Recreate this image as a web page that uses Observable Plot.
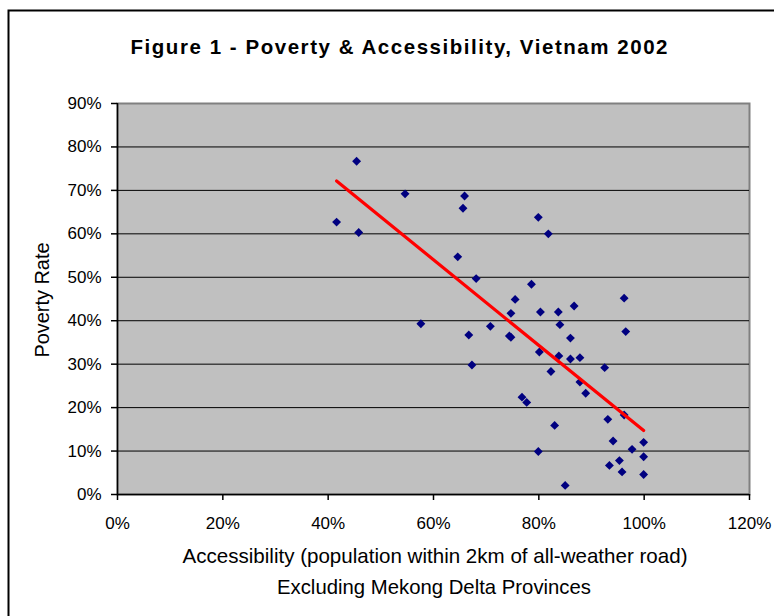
<!DOCTYPE html>
<html>
<head>
<meta charset="utf-8">
<script src="https://cdn.jsdelivr.net/npm/d3@7"></script>
<script src="https://cdn.jsdelivr.net/npm/@observablehq/plot@0.6"></script>
<style>
  body { margin: 0; background: #ffffff; }
  #chart svg { display: block; }
</style>
</head>
<body>
<div id="chart"></div>
<script>
// Accessibility (% population within 2km of all-weather road)
const accessibility = [
  41.6, 45.4, 45.8, 54.6, 57.6, 64.6, 65.6, 65.9, 66.7, 67.3,
  68.1, 70.8, 74.4, 74.7, 74.7, 75.5, 76.8, 77.7, 78.6, 79.9,
  79.9, 80.1, 80.3, 81.8, 82.3, 83.0, 83.7, 83.8, 84.0, 85.0,
  86.0, 86.0, 86.7, 87.8, 87.8, 88.9, 92.5, 93.1, 93.4, 94.1,
  95.3, 95.8, 96.2, 96.2, 96.5, 97.7, 99.9, 99.9, 99.9
];
// Poverty rate (%)
const poverty = [
  62.7, 76.7, 60.3, 69.2, 39.3, 54.7, 65.9, 68.7, 36.7, 29.8,
  49.7, 38.7, 36.5, 36.2, 41.7, 44.9, 22.4, 21.2, 48.4, 63.8,
   9.9, 32.8, 42.0, 60.0, 28.3, 15.9, 42.0, 31.9, 39.1,  2.1,
  36.0, 31.2, 43.4, 31.5, 25.9, 23.3, 29.2, 17.3,  6.7, 12.3,
   7.8,  5.2, 45.2, 18.3, 37.5, 10.4, 12.0,  8.7,  4.6
];
const xTicks = [0, 20, 40, 60, 80, 100, 120];
const yTicks = [0, 10, 20, 30, 40, 50, 60, 70, 80, 90];
const titleText = "Figure 1 - Poverty & Accessibility, Vietnam 2002";
const xTitleLines = [
  "Accessibility (population within 2km of all-weather road)",
  "Excluding Mekong Delta Provinces"
];
const yTitleText = "Poverty Rate";

const data = accessibility.map((a, i) => ({ access: a, poverty: poverty[i] }));

const W = 774, H = 616;
const chart = Plot.plot({
  width: W,
  height: H,
  marginLeft: 117,
  marginRight: 25,
  marginTop: 103,
  marginBottom: 122,
  style: {
    fontFamily: "'Liberation Sans', Arial, sans-serif",
    fontSize: "17px",
    color: "#000000",
    background: "#ffffff",
    overflow: "visible"
  },
  x: { domain: [0, 120], label: null },
  y: { domain: [0, 90], label: null },
  marks: [
    Plot.frame({ fill: "#C0C0C0", stroke: "#808080", strokeWidth: 2 }),
    Plot.gridY(yTicks.filter(d => d > 0 && d < 90), { stroke: "#000000", strokeOpacity: 1, strokeWidth: 1 }),
    Plot.ruleX([0], { stroke: "#000000", strokeWidth: 1.5 }),
    Plot.ruleY([0], { stroke: "#000000", strokeWidth: 1.5 }),
    Plot.axisX({ ticks: xTicks, tickFormat: d => d + "%", tickSize: 6, tickPadding: 16, stroke: "#000000", strokeWidth: 1.5, fontSize: 17, label: null }),
    Plot.axisY({ ticks: yTicks, tickFormat: d => d + "%", tickSize: 6, tickPadding: 10, stroke: "#000000", strokeWidth: 1.5, fontSize: 17, label: null }),
    Plot.dot(data, { x: "access", y: "poverty", symbol: "diamond2", r: 4, fill: "#000080", stroke: "none" }),
    Plot.linearRegressionY(data, { x: "access", y: "poverty", stroke: "#FF0000", strokeWidth: 3.2, ci: 0 })
  ]
});

const svg = d3.select(chart);
// outer chart border (behind everything)
svg.insert("rect", ":first-child")
  .attr("x", 8.5).attr("y", 10.5)
  .attr("width", 900).attr("height", 900)
  .attr("fill", "none").attr("stroke", "#000000").attr("stroke-width", 2);

svg.append("text")
  .attr("x", 399).attr("y", 54)
  .attr("text-anchor", "middle")
  .attr("font-family", "'Liberation Sans', Arial, sans-serif")
  .attr("font-weight", "bold")
  .attr("font-size", 20.5)
  .attr("textLength", 537)
  .attr("lengthAdjust", "spacing")
  .attr("fill", "#000000")
  .text(titleText);

const narrow = "'Liberation Sans Narrow', 'Arial Narrow', 'Liberation Sans', Arial, sans-serif";
svg.append("text")
  .attr("x", 435).attr("y", 563)
  .attr("text-anchor", "middle")
  .attr("font-family", narrow)
  .attr("font-size", 21)
  .attr("textLength", 505)
  .attr("lengthAdjust", "spacingAndGlyphs")
  .attr("fill", "#000000")
  .text(xTitleLines[0]);
svg.append("text")
  .attr("x", 434).attr("y", 594)
  .attr("text-anchor", "middle")
  .attr("font-family", narrow)
  .attr("font-size", 21)
  .attr("textLength", 314)
  .attr("lengthAdjust", "spacingAndGlyphs")
  .attr("fill", "#000000")
  .text(xTitleLines[1]);
svg.append("text")
  .attr("transform", "translate(49,300) rotate(-90)")
  .attr("text-anchor", "middle")
  .attr("font-family", narrow)
  .attr("font-size", 21)
  .attr("textLength", 115)
  .attr("lengthAdjust", "spacingAndGlyphs")
  .attr("fill", "#000000")
  .text(yTitleText);

document.getElementById("chart").appendChild(chart);
</script>
</body>
</html>
